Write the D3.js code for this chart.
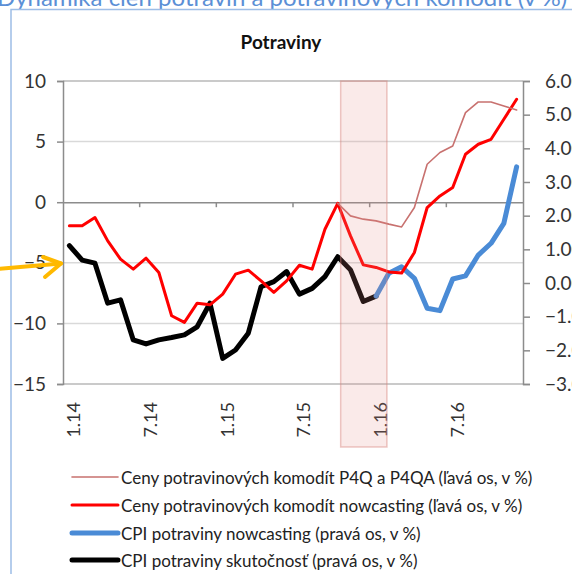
<!DOCTYPE html>
<html><head><meta charset="utf-8">
<script src="https://cdn.jsdelivr.net/npm/d3@7"></script>
<style>
html,body{margin:0;padding:0;background:#fff;overflow:hidden;}
svg{display:block;font-family:Lato,"Noto Sans",sans-serif;}
</style></head>
<body>
<script>
// ---- data ----
const categories = [];
const years = ["14","15","16"];
years.forEach(y => { for (let m = 1; m <= 12; m++) categories.push(m + "." + y); });
const tickLabels = ["1.14","7.14","1.15","7.15","1.16","7.16"];
const leftTicks = [-15,-10,-5,0,5,10];
const rightTicks = [-3,-2,-1,0,1,2,3,4,5,6];

const commodP4Q = [null,null,null,null,null,null,null,null,null,null,null,null,
  null,null,null,null,null,null,null,null,null,-0.10,-1.13,-1.40,
  -1.54,-1.81,-2.04,-0.44,3.13,4.10,4.64,7.39,8.27,8.27,7.94,7.61];
const commodNowcast = [-1.95,-1.95,-1.26,-3.19,-4.70,-5.52,-4.62,-5.80,-9.37,-9.92,-8.33,-8.47,
  -7.58,-5.94,-5.61,-6.49,-7.44,-6.49,-5.20,-5.52,-2.23,-0.10,-2.78,-5.17,
  -5.38,-5.75,-5.85,-4.15,-0.44,0.52,1.21,3.96,4.78,5.19,6.84,8.49];
const cpiNowcast = [null,null,null,null,null,null,null,null,null,null,null,null,
  null,null,null,null,null,null,null,null,null,null,null,null,
  -0.39,0.29,0.48,0.14,-0.75,-0.82,0.12,0.21,0.83,1.18,1.77,3.45];
const cpiActual = [1.11,0.68,0.59,-0.60,-0.50,-1.69,-1.81,-1.69,-1.62,-1.54,-1.30,-0.60,
  -2.24,-1.99,-1.49,-0.11,0.04,0.34,-0.33,-0.16,0.19,0.78,0.39,-0.55,
  -0.39,null,null,null,null,null,null,null,null,null,null,null];
// highlighted period, in category units (from, to)
const highlight = [21.73, 25.35];

const seriesNames = [
  "Ceny potravinových komodít P4Q a P4QA (ľavá os, v %)",
  "Ceny potravinových komodít nowcasting (ľavá os, v %)",
  "CPI potraviny nowcasting (pravá os, v %)",
  "CPI potraviny skutočnosť (pravá os, v %)"
];
const pageTitle = "Dynamika cien potravín a potravinových komodít (v %)";
const chartTitle = "Potraviny";

// ---- layout ----
const W = 572, H = 574;
const L = 63, R = 523, T = 81, B = 384;
const svg = d3.select("body").append("svg").attr("width", W).attr("height", H);

const x = d3.scaleBand().domain(categories).range([L, R]).padding(0);
const bw = x.bandwidth();
const xc = i => x(categories[i]) + bw / 2;
const xu = u => L + u * bw;
const yL = d3.scaleLinear().domain([-15, 10]).range([B, T]);
const yR = d3.scaleLinear().domain([-3, 6]).range([B, T]);

// page title (cut off)
svg.append("text").attr("x", -3).attr("y", 6).attr("font-size", 24)
  .attr("fill", "#5B8FD6").text(pageTitle);

// chart border
svg.append("path").attr("d", `M11,${H} L11,9.5 L${W},9.5`)
  .attr("fill", "none").attr("stroke", "#9DBDE6").attr("stroke-width", 1.5);

svg.append("text").attr("x", 281).attr("y", 49).attr("text-anchor", "middle")
  .attr("font-size", 19).attr("font-weight", "bold").attr("fill", "#111").text(chartTitle);

// gridlines
const grid = svg.append("g");
leftTicks.filter(v => v !== 0).forEach(v => {
  grid.append("line").attr("x1", L).attr("x2", R).attr("y1", yL(v)).attr("y2", yL(v))
    .attr("stroke", (v === 10 || v === -15) ? "#B8B8B8" : "#D9D9D9").attr("stroke-width", 1.5);
});

// axes
const axisColor = "#8C8C8C";
const gl = svg.append("g").attr("transform", `translate(${L},0)`)
  .call(d3.axisLeft(yL).tickValues(leftTicks).tickSize(6).tickPadding(11).tickFormat(d3.format("d")));
const gr = svg.append("g").attr("transform", `translate(${R},0)`)
  .call(d3.axisRight(yR).tickValues(rightTicks).tickSize(7).tickPadding(15).tickFormat(d3.format(".2f")));
[gl, gr].forEach(g => {
  g.select(".domain").attr("stroke", axisColor).attr("stroke-width", 1.5);
  g.selectAll(".tick line").attr("stroke", axisColor).attr("stroke-width", 1.5);
  g.selectAll(".tick text").attr("font-size", 19).attr("fill", "#333").attr("font-family", "Lato");
});

// category axis at zero
const gx = svg.append("g").attr("transform", `translate(0,${yL(0)})`)
  .call(d3.axisBottom(x).tickValues(categories.filter((c, i) => i % 6 === 0)).tickSize(0).tickFormat(""));
gx.select(".domain").attr("stroke", axisColor).attr("stroke-width", 1.5);
// tick marks between categories (every 6)
for (let i = 6; i < categories.length; i += 6) {
  svg.append("line").attr("x1", x(categories[i])).attr("x2", x(categories[i]))
    .attr("y1", yL(0)).attr("y2", yL(0) + 5).attr("stroke", axisColor).attr("stroke-width", 1.5);
}
// bottom labels
tickLabels.forEach(t => {
  const cx = x(t) + bw / 2 + 4;
  svg.append("text").attr("transform", `translate(${cx},${B + 18}) rotate(-90)`)
    .attr("text-anchor", "end").attr("dominant-baseline", "central")
    .attr("font-size", 18).attr("fill", "#333").text(t);
});

// lines
const lineL = d3.line().defined(d => d != null).x((d, i) => xc(i)).y(d => yL(d));
const lineR = d3.line().defined(d => d != null).x((d, i) => xc(i)).y(d => yR(d));
const styles = [
  {data: commodP4Q, gen: lineL, color: "#C8716F", w: 1.6},
  {data: commodNowcast, gen: lineL, color: "#FF0000", w: 3},
  {data: cpiNowcast, gen: lineR, color: "#4A8BD6", w: 5},
  {data: cpiActual, gen: lineR, color: "#000000", w: 5}
];
const lg = svg.append("g");
[styles[3], styles[2], styles[1], styles[0]].forEach(s => {
  lg.append("path").attr("d", s.gen(s.data)).attr("fill", "none")
    .attr("stroke", s.color).attr("stroke-width", s.w)
    .attr("stroke-linejoin", "round").attr("stroke-linecap", "round");
});

// highlight box
svg.append("rect").attr("x", xu(highlight[0])).attr("y", T)
  .attr("width", xu(highlight[1]) - xu(highlight[0])).attr("height", 447 - T)
  .attr("fill", "rgba(230,140,135,0.18)").attr("stroke", "rgba(215,130,125,0.45)").attr("stroke-width", 1.5);

// orange arrow
const ag = svg.append("g").attr("stroke", "#FFB900").attr("stroke-width", 4)
  .attr("fill", "none").attr("stroke-linecap", "round").attr("stroke-linejoin", "round");
ag.append("line").attr("x1", -2).attr("y1", 269).attr("x2", 61).attr("y2", 263.5);
ag.append("polyline").attr("points", "43,257 61,263.5 45,277");

// legend
const legY = [477, 505, 533, 560];
styles.forEach((s, i) => {
  svg.append("line").attr("x1", 72).attr("x2", 118).attr("y1", legY[i]).attr("y2", legY[i])
    .attr("stroke", s.color).attr("stroke-width", s.w).attr("stroke-linecap", "round");
  svg.append("text").attr("x", 121).attr("y", legY[i]).attr("dominant-baseline", "central")
    .attr("font-size", 17).attr("fill", "#222").text(seriesNames[i]);
});
</script>
</body></html>
